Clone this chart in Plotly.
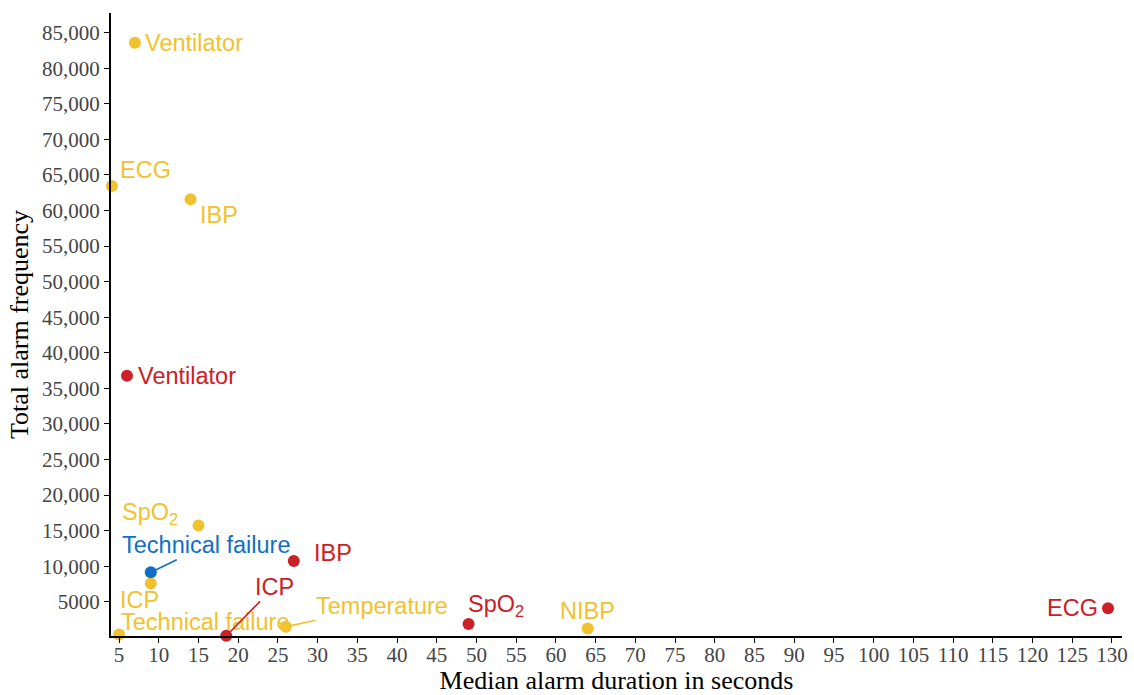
import plotly.graph_objects as go

# ---- data ----
labels = ["Ventilator", "ECG", "IBP", "SpO<sub>2</sub>", "ICP", "Technical failure",
          "Temperature", "NIBP",
          "Ventilator", "IBP", "ICP", "SpO<sub>2</sub>", "ECG",
          "Technical failure"]
groups = ["yellow"] * 8 + ["red"] * 5 + ["blue"]
duration = [7.0, 4.1, 14.0, 15.0, 9.0, 5.0, 26.0, 64.0,
            6.0, 27.0, 18.5, 49.0, 129.5,
            9.0]
frequency = [83600, 63450, 61600, 15700, 7550, 400, 1480, 1250,
             36770, 10720, 200, 1870, 4080,
             9130]

x_ticks = list(range(5, 131, 5))
y_ticks = list(range(5000, 85001, 5000))
y_ticktext = ["5000"] + [f"{v:,}" for v in y_ticks[1:]]

colors = {"yellow": "#F2C12E", "red": "#CB2027", "blue": "#0F6FC6"}

# label placement (pixel offsets): (mode, dx, dy, anchor)
# mode "t": plain text shifted; "a": text with connecting segment
label_style = [
    ("t", 8, 0, "left"),
    ("t", 6, 16, "left"),
    ("t", 7, -16, "left"),
    ("t", -18, 12, "right"),
    ("t", -11, -16, "center"),
    ("t", 86, 12, "center"),
    ("a", 96, -21, "center"),
    ("t", 0, 17, "center"),
    ("t", 9, 0, "left"),
    ("t", 18, 8, "left"),
    ("a", 48, -49, "center"),
    ("t", -3, 18, "left"),
    ("t", -8, 0, "right"),
    ("a", 56, -27, "center"),
]

LABEL_FONT = "Liberation Sans, Arial"
LABEL_SIZE = 23.5

fig = go.Figure()
for g in ["yellow", "red", "blue"]:
    idx = [i for i, gg in enumerate(groups) if gg == g]
    fig.add_trace(go.Scatter(
        x=[duration[i] for i in idx], y=[frequency[i] for i in idx],
        mode="markers", marker=dict(size=12, color=colors[g]),
        showlegend=False, cliponaxis=False, hoverinfo="skip"))

for i, lab in enumerate(labels):
    mode, dx, dy, anchor = label_style[i]
    col = colors[groups[i]]
    if mode == "a":
        fig.add_annotation(x=duration[i], y=frequency[i], xref="x", yref="y",
                           text=lab, showarrow=True, arrowhead=0, arrowwidth=1.6,
                           arrowcolor=col, ax=dx, ay=dy, standoff=3,
                           font=dict(family=LABEL_FONT, size=LABEL_SIZE, color=col))
    else:
        fig.add_annotation(x=duration[i], y=frequency[i], xref="x", yref="y",
                           text=lab, showarrow=False, xanchor=anchor, yanchor="middle",
                           xshift=dx, yshift=dy,
                           font=dict(family=LABEL_FONT, size=LABEL_SIZE, color=col))

fig.update_layout(
    width=1134, height=695,
    margin=dict(l=111, r=12, t=13, b=59),
    paper_bgcolor="white", plot_bgcolor="white",
    font=dict(family="Liberation Serif, Times New Roman", color="#333333"),
)
fig.update_xaxes(
    range=[3.99, 131.26], tickmode="array", tickvals=x_ticks, automargin=False,
    ticks="outside", ticklen=5, tickwidth=1.3, tickcolor="black",
    ticklabelstandoff=-6,
    showline=True, linecolor="black", linewidth=2, showgrid=False, zeroline=False,
    tickfont=dict(size=21, color="#444444"),
    title=dict(text="Median alarm duration in seconds", standoff=6,
               font=dict(size=26, color="black")),
)
fig.update_yaxes(
    range=[180, 87770], tickmode="array", tickvals=y_ticks, ticktext=y_ticktext,
    automargin=False,
    ticks="outside", ticklen=5, tickwidth=1.3, tickcolor="black",
    showline=True, linecolor="black", linewidth=2, showgrid=False, zeroline=False,
    tickfont=dict(size=21, color="#444444"),
    title=dict(text="Total alarm frequency", standoff=6,
               font=dict(size=26, color="black")),
)

fig.write_html("out.html", config={"displayModeBar": False},
               post_script="document.body.style.margin='0';document.body.style.overflow='hidden';")
